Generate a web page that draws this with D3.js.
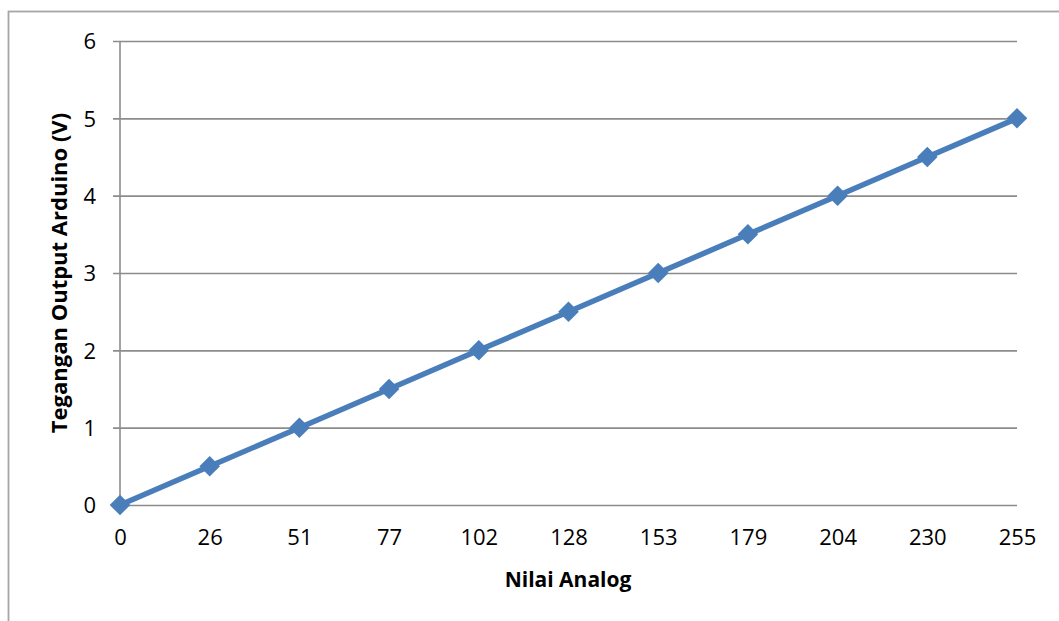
<!DOCTYPE html>
<html>
<head>
<meta charset="utf-8">
<script src="https://cdn.jsdelivr.net/npm/d3@7"></script>
<style>
  html, body { margin: 0; padding: 0; background: #fff; }
  svg { display: block; }
  text { font-family: "Open Sans", Lato, sans-serif; fill: #000; }
</style>
</head>
<body>
<svg id="chart" width="1059" height="621"></svg>
<script>
// Analog input values (category axis) and measured Arduino output voltage
const categories = ["0", "26", "51", "77", "102", "128", "153", "179", "204", "230", "255"];
const voltage = [0, 0.5, 1, 1.5, 2, 2.5, 3, 3.5, 4, 4.5, 5];
const yTicks = [0, 1, 2, 3, 4, 5, 6];

const svg = d3.select("#chart");
const plot = { left: 120, right: 1017, top: 41, bottom: 505 };
const FONT = "'Open Sans', Lato, sans-serif";

// outer chart frame
svg.append("rect")
  .attr("x", 8.5).attr("y", 11.5)
  .attr("width", 1070).attr("height", 700)
  .attr("fill", "none")
  .attr("stroke", "#a6a6a6")
  .attr("stroke-width", 1.8);

const x = d3.scalePoint()
  .domain(categories)
  .range([plot.left, plot.right]);

const y = d3.scaleLinear()
  .domain([0, 6])
  .range([plot.bottom, plot.top]);

// horizontal gridlines + y tick marks
const yAxis = d3.axisLeft(y)
  .tickValues(yTicks)
  .tickSize(-(plot.right - plot.left))
  .tickPadding(24)
  .tickFormat(d3.format("d"));

const gy = svg.append("g")
  .attr("transform", `translate(${plot.left},0)`)
  .call(yAxis);
gy.select(".domain").remove();
gy.selectAll(".tick line")
  .attr("stroke", "#8c8c8c")
  .attr("stroke-width", 1.6)
  .attr("x1", -7);
gy.selectAll(".tick text")
  .attr("font-size", 22)
  .attr("dy", "0.35em")
  .style("font-family", FONT);

// vertical value axis line
svg.append("line")
  .attr("x1", plot.left).attr("x2", plot.left)
  .attr("y1", plot.top).attr("y2", plot.bottom)
  .attr("stroke", "#8c8c8c")
  .attr("stroke-width", 1.6);

// category axis labels
const xAxis = d3.axisBottom(x).tickSize(0).tickPadding(24);
const gx = svg.append("g")
  .attr("transform", `translate(0,${plot.bottom})`)
  .call(xAxis);
gx.select(".domain").remove();
gx.selectAll(".tick text")
  .attr("font-size", 22)
  .style("font-family", FONT);

// axis titles
svg.append("text")
  .attr("x", 568)
  .attr("y", 587)
  .attr("text-anchor", "middle")
  .attr("font-size", 21)
  .attr("font-weight", "bold")
  .text("Nilai Analog");

svg.append("text")
  .attr("transform", `translate(67,${(plot.top + plot.bottom) / 2}) rotate(-90)`)
  .attr("text-anchor", "middle")
  .attr("font-size", 22)
  .attr("font-weight", "bold")
  .text("Tegangan Output Arduino (V)");

// data series
const series = categories.map((c, i) => ({ c, v: voltage[i] }));
const color = "#4a7ebb";

svg.append("path")
  .datum(series)
  .attr("fill", "none")
  .attr("stroke", color)
  .attr("stroke-width", 5.5)
  .attr("stroke-linejoin", "round")
  .attr("d", d3.line().x(d => x(d.c)).y(d => y(d.v)));

svg.append("g")
  .selectAll("path")
  .data(series)
  .join("path")
  .attr("transform", d => `translate(${x(d.c)},${y(d.v)})`)
  .attr("d", d3.symbol(d3.symbolDiamond2, 270))
  .attr("fill", color);
</script>
</body>
</html>
